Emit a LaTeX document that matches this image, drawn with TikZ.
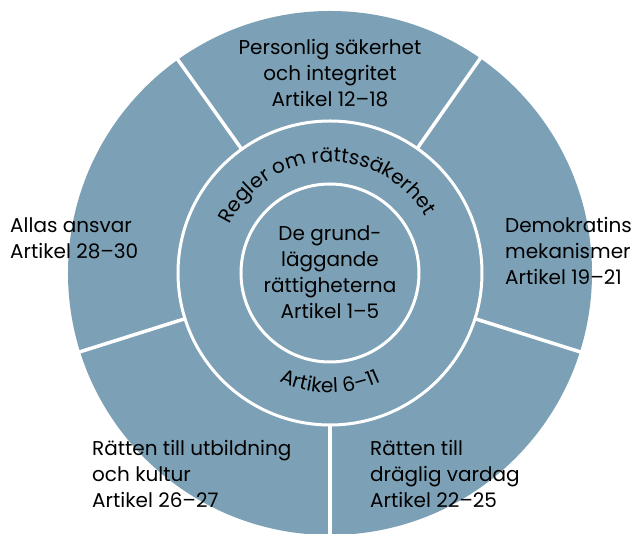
\documentclass[tikz,border=0pt]{standalone}
\usepackage{fontspec}
\setmainfont{Poppins}
\usetikzlibrary{decorations.text}
\definecolor{ringblue}{RGB}{124,160,181}
\newcommand{\ringsize}{\fontsize{20}{26}\selectfont}

\begin{document}
\begin{tikzpicture}[x=1pt, y=1pt,
    areatext/.style={inner sep=0pt, align=left, font=\ringsize},
    spoke/.style={white, line width=3.5pt},
    ring/.style={white, line width=3pt}]
    \useasboundingbox (-330,-261) rectangle (307,273);
    \clip (-330,-261) rectangle (307,273);
    \fill[ringblue] (0,0) circle (262);
    \draw[ring] (0,0) circle (152);
    \draw[ring] (0,0) circle (89);
    \foreach \a in {55,125.5,197.5,270,342.5}
        \draw[spoke] (\a:152) -- (\a:264);

    \node[areatext, align=center](safety) at (0,200) {Personlig säkerhet\\och integritet\\Artikel 12–18};
    \node[areatext, anchor=west](duty) at (-320,34.5) {Allas ansvar\\Artikel 28–30};
    \node[areatext, anchor=west](democracy) at (175,22) {Demokratins\\mekanismer\\Artikel 19–21};
    \node[areatext, anchor=west](education) at (-238,-201) {Rätten till utbildning\\och kultur\\Artikel 26–27};
    \node[areatext, anchor=west](living) at (40,-201) {Rätten till\\dräglig vardag\\Artikel 22–25};
    \node[areatext, align=center](basic) at (0,0.5) {De grund-\\läggande\\rättigheterna\\Artikel 1–5};

    \path[decorate, decoration={text along path, text align=center,
        text={|\ringsize|Regler om rättssäkerhet}}] (185:111) arc (185:0:111);
    \path[decorate, decoration={text along path, text align=center,
        text={|\ringsize|Artikel 6–11}}] (180:120) arc (180:360:120);
\end{tikzpicture}
\end{document}
